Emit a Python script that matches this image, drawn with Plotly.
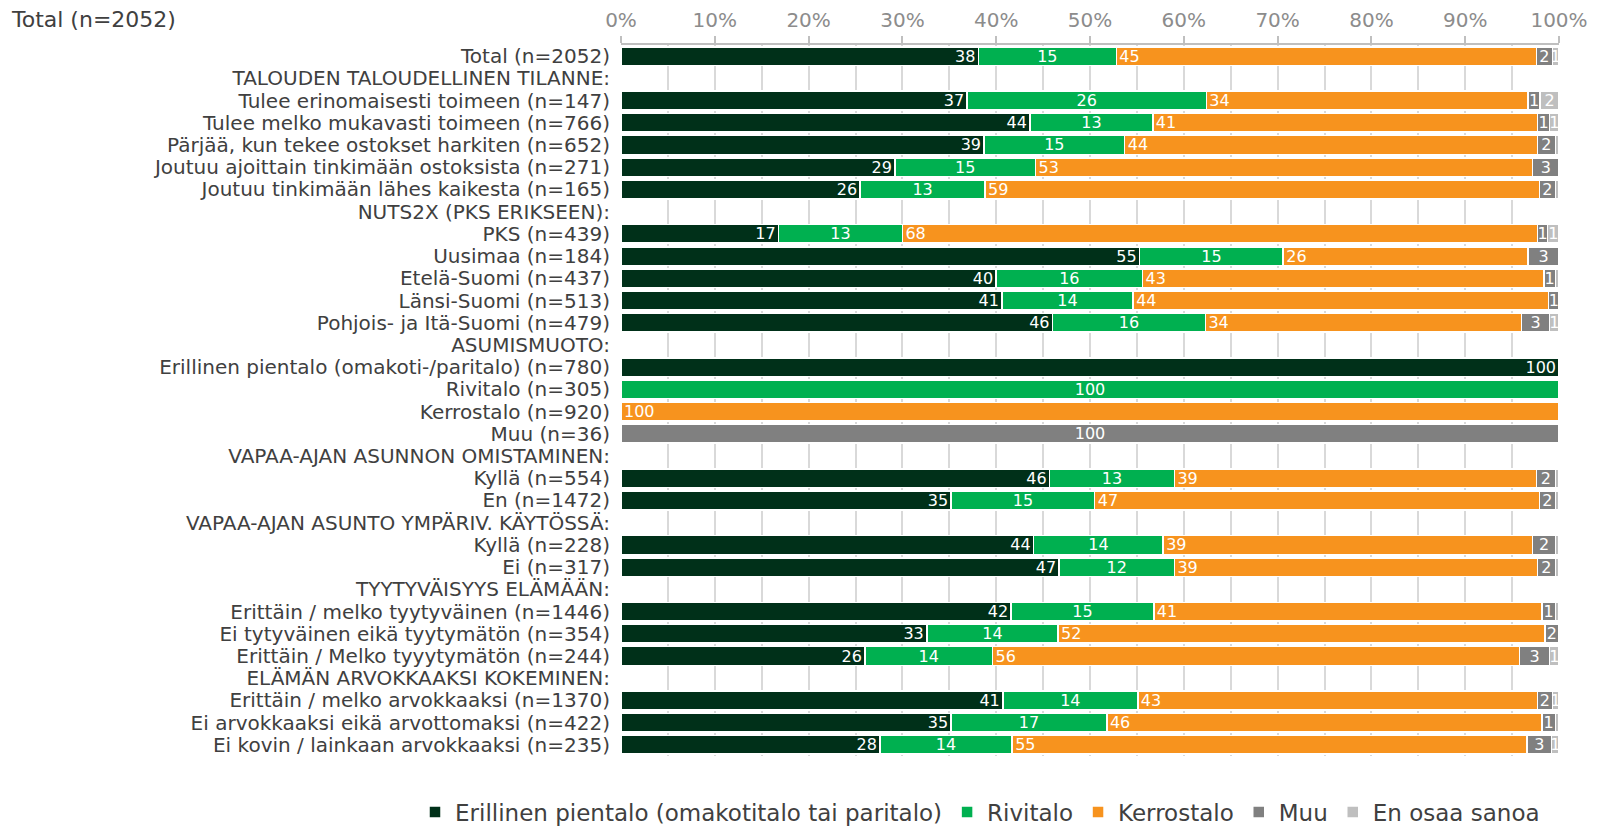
import plotly.graph_objects as go

categories = [
    "Total (n=2052)",
    "TALOUDEN TALOUDELLINEN TILANNE:",
    "Tulee erinomaisesti toimeen (n=147)",
    "Tulee melko mukavasti toimeen (n=766)",
    "Pärjää, kun tekee ostokset harkiten (n=652)",
    "Joutuu ajoittain tinkimään ostoksista (n=271)",
    "Joutuu tinkimään lähes kaikesta (n=165)",
    "NUTS2X (PKS ERIKSEEN):",
    "PKS (n=439)",
    "Uusimaa (n=184)",
    "Etelä-Suomi (n=437)",
    "Länsi-Suomi (n=513)",
    "Pohjois- ja Itä-Suomi (n=479)",
    "ASUMISMUOTO:",
    "Erillinen pientalo (omakoti-/paritalo) (n=780)",
    "Rivitalo (n=305)",
    "Kerrostalo (n=920)",
    "Muu (n=36)",
    "VAPAA-AJAN ASUNNON OMISTAMINEN:",
    "Kyllä (n=554)",
    "En (n=1472)",
    "VAPAA-AJAN ASUNTO YMPÄRIV. KÄYTÖSSÄ:",
    "Kyllä (n=228)",
    "Ei (n=317)",
    "TYYTYVÄISYYS ELÄMÄÄN:",
    "Erittäin / melko tyytyväinen (n=1446)",
    "Ei tytyväinen eikä tyytymätön (n=354)",
    "Erittäin / Melko tyyytymätön (n=244)",
    "ELÄMÄN ARVOKKAAKSI KOKEMINEN:",
    "Erittäin / melko arvokkaaksi (n=1370)",
    "Ei arvokkaaksi eikä arvottomaksi (n=422)",
    "Ei kovin / lainkaan arvokkaaksi (n=235)",
]

N = None
erillinen = [38.1, N, 36.9, 43.6, 38.7, 29.2, 25.5, N, 16.8, 55.3, 40.0, 40.6, 46.0, N,
             100, N, N, N, N, 45.7, 35.2, N, 44.0, 46.7, N, 41.6, 32.6, 26.0, N, 40.7, 35.2, 27.6]
rivitalo = [14.7, N, 25.5, 13.1, 15.0, 15.0, 13.3, N, 13.2, 15.3, 15.6, 14.0, 16.3, N,
            N, 100, N, N, N, 13.3, 15.3, N, 13.8, 12.3, N, 15.2, 14.0, 13.6, N, 14.4, 16.6, 14.1]
kerrostalo = [44.8, N, 34.3, 41.0, 44.0, 53.0, 59.1, N, 67.7, 26.1, 42.8, 44.3, 33.7, N,
              N, N, 100, N, N, 38.6, 47.4, N, 39.4, 38.7, N, 41.4, 51.9, 56.2, N, 42.6, 46.4, 54.9]
muu = [1.7, N, 1.3, 1.3, 1.9, 2.8, 1.7, N, 1.1, 3.3, 1.2, 1.1, 3.0, N,
       N, N, N, 100, N, 2.0, 1.7, N, 2.4, 1.9, N, 1.4, 1.5, 3.2, N, 1.6, 1.4, 2.6]
eos = [0.7, N, 2.0, 1.0, 0.4, N, 0.4, N, 1.2, N, 0.4, N, 1.0, N,
       N, N, N, N, N, 0.4, 0.4, N, 0.4, 0.4, N, 0.4, N, 1.0, N, 0.7, 0.4, 0.8]

series_names = ["Erillinen pientalo (omakotitalo tai paritalo)", "Rivitalo", "Kerrostalo", "Muu", "En osaa sanoa"]
series_values = [erillinen, rivitalo, kerrostalo, muu, eos]
colors = ["#003019", "#00B050", "#F7931E", "#808080", "#BFBFBF"]
anchors = ["end", "middle", "start", "middle", "middle"]

x_ticks = list(range(0, 101, 10))
x_ticklabels = [f"{t}%" for t in x_ticks]

FONT = "DejaVu Sans"

# figure sized to fit inside the page (8px body margin)
W, H = 1590, 821
L, R, T, B = 613, 39, 37, 73
plot_w = W - L - R
plot_h = H - T - B


def labels(vals):
    out = []
    for v in vals:
        if v is None or v < 0.5:
            out.append("")
        else:
            out.append(str(int(round(v))))
    return out


fig = go.Figure()
for name, vals, col, anc in zip(series_names, series_values, colors, anchors):
    fig.add_trace(go.Bar(
        y=categories, x=vals, name=name, orientation="h",
        marker=dict(color=col, line=dict(color="white", width=1.5)),
        text=labels(vals), textposition="inside", insidetextanchor=anc,
        constraintext="none", textangle=0,
        textfont=dict(color="white", size=16, family=FONT),
        hoverinfo="skip",
    ))

fig.update_layout(
    barmode="stack",
    width=W, height=H,
    margin=dict(l=L, r=R, t=T, b=B, autoexpand=False),
    paper_bgcolor="white", plot_bgcolor="white",
    bargap=0.16,
    font=dict(family=FONT, color="#404040"),
    title=dict(text="Total (n=2052)", x=4 / W, xanchor="left", y=1 - 11 / H, yanchor="middle",
               xref="container", yref="container",
               font=dict(size=22, color="#404040", family=FONT)),
    showlegend=True,
    legend=dict(orientation="h",
                x=(407 - L) / plot_w, xanchor="left",
                y=-(804 - (H - B)) / plot_h, yanchor="middle",
                font=dict(size=23, color="#404040", family=FONT),
                traceorder="normal", itemwidth=30, tracegroupgap=0),
)

fig.update_xaxes(
    side="top", range=[0, 100], automargin=False,
    tickvals=x_ticks, ticktext=x_ticklabels,
    tickfont=dict(size=20, color="#8C8C8C", family=FONT),
    showline=True, linecolor="#BFBFBF", linewidth=2,
    ticks="outside", ticklen=7, tickcolor="#BFBFBF", tickwidth=2,
    ticklabelstandoff=1,
    showgrid=True, gridcolor="#D9D9D9", gridwidth=2,
    minor=dict(dtick=5, tick0=0, showgrid=True, gridcolor="#D9D9D9", gridwidth=2),
    zeroline=False, fixedrange=True,
)
fig.update_yaxes(
    categoryorder="array", categoryarray=categories, autorange="reversed",
    tickmode="array", tickvals=categories, automargin=False,
    tickfont=dict(size=20, color="#404040", family=FONT),
    showgrid=False, ticks="", ticklabelstandoff=10, fixedrange=True,
)

fig.write_html("out.html")
